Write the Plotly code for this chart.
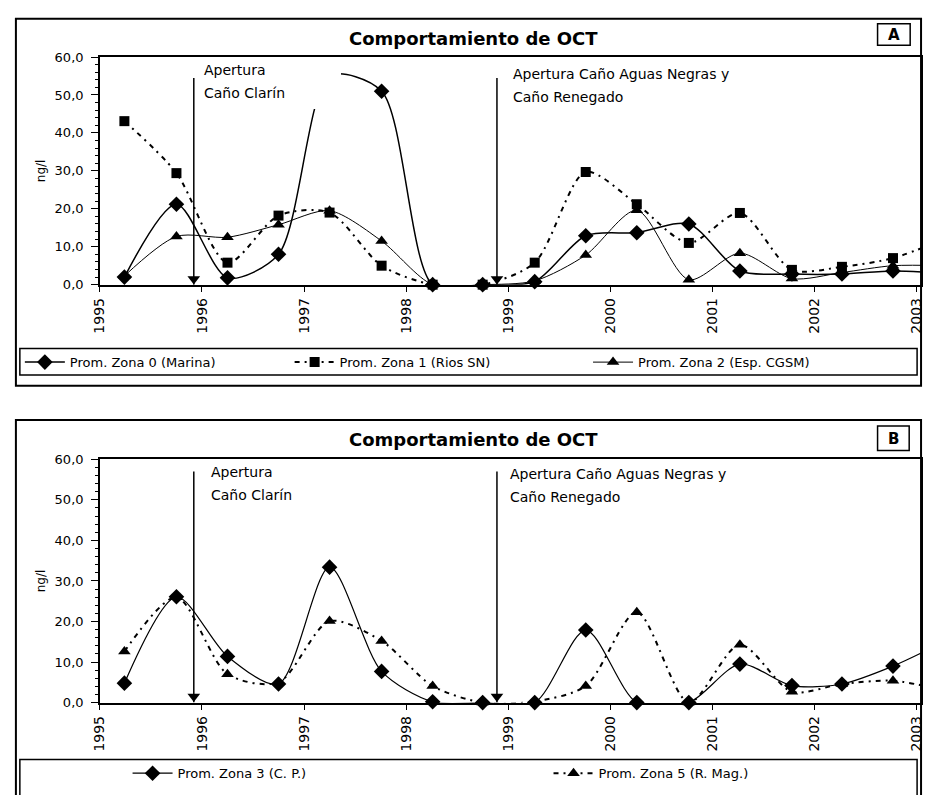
import plotly.graph_objects as go

# ---------------- data ----------------
sample_t = [1995.24, 1995.75, 1996.25, 1996.75, 1997.25, 1997.76, 1998.26, 1998.75,
            1999.26, 1999.76, 2000.26, 2000.77, 2001.27, 2001.78, 2002.27, 2002.77, 2003.27]

zona0 = [2.0, 21.2, 1.8, 8.0, 55.0, 51.0, 0.0, 0.0, 0.8, 12.9, 13.7, 16.0, 3.6, 2.8, 2.8, 3.6, 3.0]
zona1 = [43.1, 29.4, 5.8, 18.2, 19.0, 5.0, 0.0, 0.0, 5.8, 29.7, 21.2, 11.0, 18.9, 3.9, 4.7, 7.0, 12.0]
zona2 = [2.3, 12.7, 12.5, 15.8, 19.5, 11.5, 0.0, 0.0, 1.0, 7.8, 19.6, 1.3, 8.3, 1.6, 3.2, 5.0, 5.0]

zona3 = [4.8, 26.1, 11.4, 4.6, 33.4, 7.7, 0.2, 0.0, 0.0, 17.9, 0.0, 0.0, 9.5, 4.2, 4.6, 9.0, 15.0]
zona5 = [12.6, 26.0, 7.0, 5.0, 20.1, 15.2, 4.1, 0.0, 0.3, 4.1, 22.3, 0.0, 14.3, 2.7, 4.6, 5.4, 3.0]

tick_years = [1995, 1996, 1997, 1998, 1999, 2000, 2001, 2002, 2003]
tick_labels = ["1995", "1996", "1997", "1998", "1999", "2000", "2001", "2002", "2003"]

event_x = [1995.92, 1998.89]
event_lines = [["Apertura", "Caño Clarín"], ["Apertura Caño Aguas Negras y", "Caño Renegado"]]
event_top_a = 54.5
event_top_b = 57.0

names_a = ["Prom. Zona 0 (Marina)", "Prom. Zona 1 (Rios SN)", "Prom. Zona 2 (Esp. CGSM)"]
names_b = ["Prom. Zona 3 (C. P.)", "Prom. Zona 5 (R. Mag.)"]
title_text = "Comportamiento de OCT"

# ---------------- helpers ----------------
W, H = 928, 795
def px(x):
    return x / W
def py(y):
    return 1 - y / H

FONT = "DejaVu Sans"
DASHDOT = "5px,5px,2px,5px"

fig = go.Figure()

def add_series(x, y, name, symbol, dash, width, xa, ya, legend, size=10):
    fig.add_trace(go.Scatter(
        x=x, y=y, name=name, mode="lines+markers",
        line=dict(color="black", width=width, dash=dash, shape="spline", smoothing=0.8),
        marker=dict(symbol=symbol, size=size, color="black"),
        xaxis=xa, yaxis=ya, legend=legend, cliponaxis=False,
    ))

def add_events(xa, ya, top):
    for ex in event_x:
        fig.add_trace(go.Scatter(x=[ex, ex], y=[0, top], mode="lines",
                                 line=dict(color="black", width=1.5),
                                 xaxis=xa, yaxis=ya, showlegend=False, hoverinfo="skip"))
    fig.add_trace(go.Scatter(x=event_x, y=[1.5] * len(event_x), mode="markers",
                             marker=dict(symbol="triangle-down", size=11, color="black"),
                             xaxis=xa, yaxis=ya, showlegend=False, cliponaxis=False,
                             hoverinfo="skip"))

# Chart A
add_events("x", "y", event_top_a)
add_series(sample_t, zona0, names_a[0], "diamond", "solid", 1.5, "x", "y", "legend", 12)
add_series(sample_t, zona1, names_a[1], "square", DASHDOT, 2, "x", "y", "legend2", 10)
add_series(sample_t, zona2, names_a[2], "triangle-up", "solid", 1, "x", "y", "legend3", 11)

# Chart B
add_events("x2", "y2", event_top_b)
add_series(sample_t, zona3, names_b[0], "diamond", "solid", 1.2, "x2", "y2", "legend4", 12)
add_series(sample_t, zona5, names_b[1], "triangle-up", DASHDOT, 2, "x2", "y2", "legend5", 11)

xr = [1995, 2003.045]
xaxis_common = dict(range=xr, tickmode="array", tickvals=tick_years, ticktext=tick_labels,
                    tickangle=-90, ticks="outside", ticklen=6, tickcolor="black",
                    showline=True, linecolor="black", linewidth=1.5, mirror=True,
                    showgrid=False, zeroline=False,
                    tickfont=dict(family=FONT, size=14, color="black"))
yaxis_common = dict(range=[0, 60], dtick=10, tickformat=".1f", ticks="outside", ticklen=7,
                    tickcolor="black", showline=True, linecolor="black", linewidth=1.5,
                    mirror=True, showgrid=False, zeroline=False, ticklabelstandoff=5,
                    minor=dict(dtick=2, ticks="outside", ticklen=3, tickcolor="black"),
                    tickfont=dict(family=FONT, size=13, color="black"),
                    title=dict(text="ng/l", font=dict(family=FONT, size=12, color="black"),
                               standoff=6))

def legend_at(x, y):
    return dict(orientation="h", x=px(x), xanchor="left", y=py(y), yanchor="middle",
                itemwidth=40, font=dict(family=FONT, size=13, color="black"),
                bgcolor="rgba(0,0,0,0)", borderwidth=0)

dom_x = [px(93), px(924)]
fig.update_layout(
    width=W, height=H, autosize=False,
    margin=dict(l=0, r=0, t=0, b=0),
    paper_bgcolor="white", plot_bgcolor="white",
    separators=",.",
    showlegend=True,
    xaxis=dict(domain=dom_x, anchor="y", **xaxis_common),
    yaxis=dict(domain=[py(283), py(51)], anchor="x", **yaxis_common),
    xaxis2=dict(domain=dom_x, anchor="y2", **xaxis_common),
    yaxis2=dict(domain=[py(709), py(461)], anchor="x2", **yaxis_common),
    legend=legend_at(12, 362),
    legend2=legend_at(285, 362),
    legend3=legend_at(587, 362),
    legend4=legend_at(121, 781),
    legend5=legend_at(547, 781),
)

shapes = []
def rect(x0, y0, x1, y1, w=1.5, fill="rgba(0,0,0,0)", lc="black"):
    shapes.append(dict(type="rect", xref="paper", yref="paper",
                       x0=px(x0), x1=px(x1), y0=py(y1), y1=py(y0),
                       line=dict(color=lc, width=w), fillcolor=fill,
                       layer="above"))
# white background of the first label in chart A (hides part of the Zona 0 curve)
rect(195, 52, 337, 104, 0, "white", "rgba(0,0,0,0)")
# frames
rect(8, 12, 924, 386, 2)
rect(12, 348, 920, 375, 1.5)
rect(8, 421, 924, 805, 2)
rect(12, 767, 920, 805, 1.5)
# letter boxes
rect(880, 17, 913, 39, 1.5)
rect(880, 427, 912, 452, 1.5)
fig.update_layout(shapes=shapes)

ann = []
def label(text, x, y, size, bold=False, xanchor="center", yanchor="middle"):
    ann.append(dict(text=("<b>" + text + "</b>") if bold else text,
                    xref="paper", yref="paper", x=px(x), y=py(y),
                    xanchor=xanchor, yanchor=yanchor, showarrow=False,
                    font=dict(family=FONT, size=size, color="black")))

label(title_text, 471, 32, 18, True)
label(title_text, 471, 441, 18, True)
label("A", 896.5, 28.5, 15, True)
label("B", 896, 440, 15, True)

# event labels, one annotation per line, anchored to the event date
offsets = {  # (xshift, pixel centre of first line) per chart
    "A": [(8, 64), (14, 68)],
    "B": [(15, 474), (11, 476)],
}
line_gap = 23
for chart, xa, ya, top_px in (("A", "x", "y", 51), ("B", "x2", "y2", 461)):
    for i, ex in enumerate(event_x):
        xs, cy = offsets[chart][i]
        for j, txt in enumerate(event_lines[i]):
            ann.append(dict(text=txt, xref=xa, yref=ya, x=ex, y=60,
                            xanchor="left", yanchor="middle",
                            xshift=xs, yshift=-(cy + j * line_gap - top_px),
                            showarrow=False, align="left",
                            font=dict(family=FONT, size=14, color="black")))
fig.update_layout(annotations=ann)

fig.write_html("out.html", config={"displayModeBar": False},
               post_script="document.body.style.margin='0px';")
